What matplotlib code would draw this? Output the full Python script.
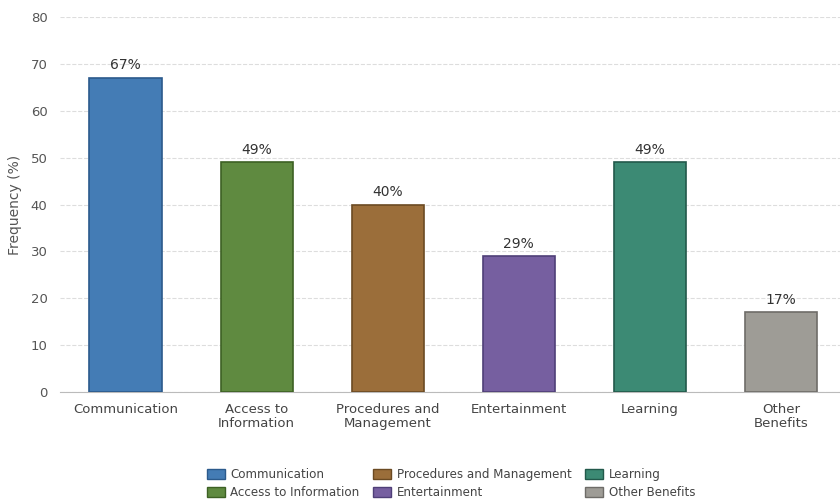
import matplotlib.pyplot as plt
import numpy as np
from matplotlib.patches import Patch

# ── 데이터 ──────────────────────────────────────────
categories = ['Communication', 'Access to\nInformation', 'Procedures and\nManagement',
              'Entertainment', 'Learning', 'Other\nBenefits']
legend_labels = ['Communication', 'Access to Information', 'Procedures and Management',
                 'Entertainment', 'Learning', 'Other Benefits']
values = [67, 49, 40, 29, 49, 17]

FACE = ['#447cb5', '#5f8a40', '#9b6e3a', '#765fa0', '#3c8a74', '#9e9c96']
EDGE = ['#2b5a8c', '#3d6124', '#6b4a22', '#4f3f78', '#22594b', '#6e6c68']

fig = plt.figure(figsize=(8.4, 4.99), dpi=100)
ax = fig.add_axes([60 / 840, 1 - 392 / 499, 780 / 840, (392 - 17) / 499])

x = np.arange(len(values))
bars = ax.bar(x, values, width=0.55, color=FACE, edgecolor=EDGE, linewidth=1.2, zorder=3)

for b, v in zip(bars, values):
    ax.annotate(f'{v}%', (b.get_x() + b.get_width() / 2, v),
                xytext=(0, 4), textcoords='offset points',
                ha='center', va='bottom', fontsize=10, color='#333333')

ax.set_xlim(-0.5, 5.45)
ax.set_ylim(0, 80)
ax.set_yticks(range(0, 81, 10))
ax.set_xticks(x)
ax.set_xticklabels(categories, fontsize=9.5, color='#444444', linespacing=1.05)
ax.tick_params(axis='y', labelsize=9.5, labelcolor='#555555', length=0, pad=9)
ax.tick_params(axis='x', length=0, pad=8)
ax.set_ylabel('Frequency (%)', fontsize=10, color='#555555', labelpad=6)

ax.grid(axis='y', linestyle='--', color='#dddddd', linewidth=0.8, zorder=0)
for s in ['top', 'right', 'left']:
    ax.spines[s].set_visible(False)
ax.spines['bottom'].set_color('#bbbbbb')

handles = [Patch(facecolor=f, edgecolor=e, label=l) for f, e, l in zip(FACE, EDGE, legend_labels)]
fig.legend(handles=handles, ncol=3, loc='lower center', bbox_to_anchor=(0.537, -0.022),
           frameon=False, fontsize=8.6, labelcolor='#444444',
           handlelength=1.5, handleheight=0.9, columnspacing=1.15, labelspacing=0.45,
           handletextpad=0.45)

fig.savefig('out.png', dpi=100)
